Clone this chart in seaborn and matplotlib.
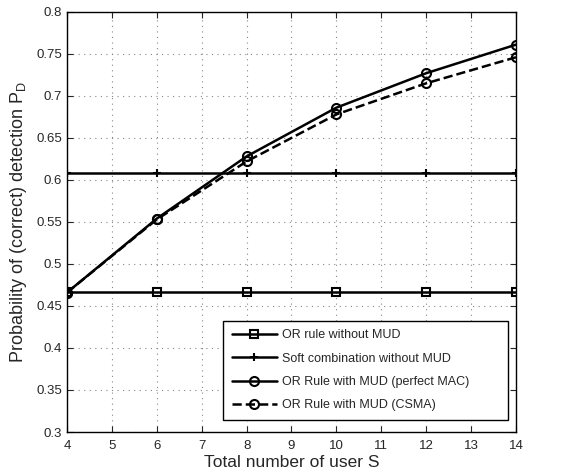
import numpy as np
import pandas as pd
import matplotlib
matplotlib.use("Agg")
import matplotlib.pyplot as plt
import seaborn as sns

# data
users = [4, 6, 8, 10, 12, 14]
or_no_mud = [0.467, 0.467, 0.467, 0.467, 0.467, 0.467]
soft_no_mud = [0.608, 0.608, 0.608, 0.608, 0.608, 0.608]
or_mud_perfect = [0.466, 0.554, 0.628, 0.686, 0.727, 0.761]
or_mud_csma = [0.466, 0.553, 0.622, 0.678, 0.715, 0.746]

labels = ["OR rule without MUD", "Soft combination without MUD",
          "OR Rule with MUD (perfect MAC)", "OR Rule with MUD (CSMA)"]

sns.set_style("ticks")
plt.rcParams['font.family'] = ['Liberation Sans', 'DejaVu Sans']
plt.rcParams['xtick.direction'] = 'in'
plt.rcParams['ytick.direction'] = 'in'

fig = plt.figure(figsize=(5.63, 4.75), dpi=100)
ax = fig.add_axes([0.119, 0.0905, 0.7975, 0.8845])

styles = [
    dict(marker="s", linestyle="-", ms=5.5),
    dict(marker="+", linestyle="-", ms=6),
    dict(marker="o", linestyle="-", ms=6.5),
    dict(marker="o", linestyle="--", ms=6.5),
]
series = [or_no_mud, soft_no_mud, or_mud_perfect, or_mud_csma]
for vals, lab, st in zip(series, labels, styles):
    df = pd.DataFrame({"S": users, "PD": vals})
    sns.lineplot(data=df, x="S", y="PD", ax=ax, color="black", linewidth=1.8,
                 marker=st["marker"], linestyle=st["linestyle"], markersize=st["ms"],
                 markerfacecolor="none", markeredgecolor="black", markeredgewidth=1.5,
                 label=lab)

ax.set_xlim(4, 14)
ax.set_ylim(0.3, 0.8)
ax.set_xticks(range(4, 15))
ax.set_yticks(np.arange(0.3, 0.801, 0.05))
ax.set_yticklabels(["0.3", "0.35", "0.4", "0.45", "0.5", "0.55", "0.6", "0.65", "0.7", "0.75", "0.8"])
ax.tick_params(labelsize=9.5, top=True, right=True, length=4, width=0.8)
ax.tick_params(axis="x", pad=6)
ax.grid(True, linestyle=(0, (1, 4)), color="#888888", linewidth=0.8)
for sp in ax.spines.values():
    sp.set_linewidth(1.0)
    sp.set_color("black")

ax.set_xlabel("Total number of user S", fontsize=12.5, labelpad=2)
ax.set_ylabel("Probability of (correct) detection P$_\\mathregular{D}$", fontsize=13, labelpad=5)

leg = ax.legend(loc="lower left", bbox_to_anchor=(0.347, 0.0286, 0.635, 0.243),
                mode="expand", fontsize=9,
                frameon=True, fancybox=False, edgecolor="black", framealpha=1,
                handlelength=3.6, borderpad=0.7, labelspacing=0.9, handletextpad=0.4,
                borderaxespad=0)
leg.get_frame().set_linewidth(1.0)

fig.savefig("out.png", dpi=100)
